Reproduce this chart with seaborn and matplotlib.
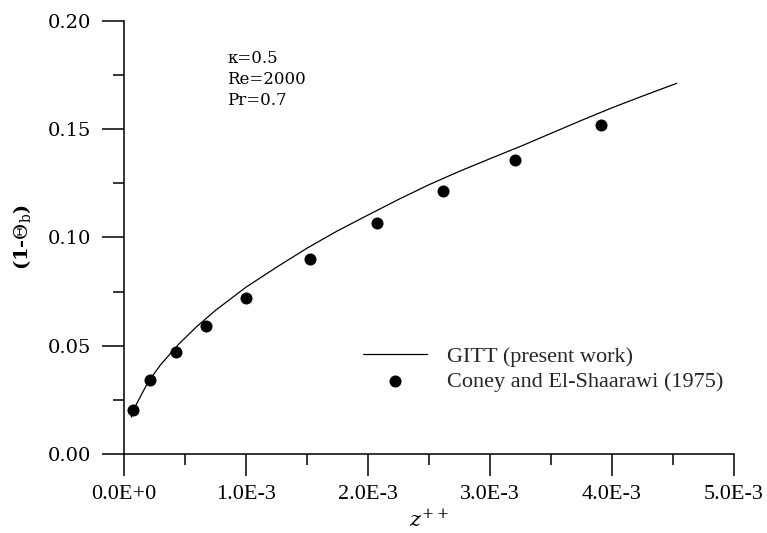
import matplotlib
matplotlib.use("Agg")
import matplotlib.pyplot as plt
import seaborn as sns
import pandas as pd
from matplotlib.ticker import FixedLocator, FixedFormatter, MultipleLocator

# ---- data ----
gitt_z = [0.06e-3, 0.10e-3, 0.20e-3, 0.30e-3, 0.45e-3, 0.60e-3, 0.75e-3, 1.00e-3,
          1.25e-3, 1.50e-3, 1.75e-3, 2.00e-3, 2.25e-3, 2.50e-3, 2.75e-3, 3.00e-3,
          3.25e-3, 3.50e-3, 3.75e-3, 4.00e-3, 4.25e-3, 4.53e-3]
gitt_theta = [0.017, 0.0228, 0.0335, 0.0412, 0.0508, 0.0590, 0.0663, 0.0770,
              0.0862, 0.0950, 0.1030, 0.1103, 0.1175, 0.1243, 0.1305, 0.1363,
              0.1420, 0.1480, 0.1540, 0.1598, 0.1652, 0.1711]

coney_z = [0.071e-3, 0.213e-3, 0.426e-3, 0.672e-3, 1.00e-3, 1.522e-3,
           2.071e-3, 2.616e-3, 3.205e-3, 3.91e-3]
coney_theta = [0.0202, 0.0342, 0.0471, 0.0590, 0.0718, 0.0899,
               0.1065, 0.1216, 0.1357, 0.152]

xtick_values = [0.0, 1e-3, 2e-3, 3e-3, 4e-3, 5e-3]
xtick_labels = ["0.0E+0", "1.0E-3", "2.0E-3", "3.0E-3", "4.0E-3", "5.0E-3"]
ytick_values = [0.00, 0.05, 0.10, 0.15, 0.20]
ytick_labels = ["0.00", "0.05", "0.10", "0.15", "0.20"]

series_labels = ["GITT (present work)", "Coney and El-Shaarawi (1975)"]
annotation = "\u03ba=0.5\nRe=2000\nPr=0.7"

df_line = pd.DataFrame({"z": gitt_z, "t": gitt_theta})
df_pts = pd.DataFrame({"z": coney_z, "t": coney_theta})

sns.set_theme(style="ticks")
plt.rcParams["font.family"] = ["DejaVu Serif"]
plt.rcParams["mathtext.fontset"] = "dejavuserif"

fig = plt.figure(figsize=(7.67, 5.33), dpi=100)
ax = fig.add_axes([124 / 767, 1 - 454 / 533, (734 - 124) / 767, (454 - 20.7) / 533])

sns.lineplot(data=df_line, x="z", y="t", ax=ax, color="black", linewidth=0.9,
             label=series_labels[0], sort=False)
sns.scatterplot(data=df_pts, x="z", y="t", ax=ax, color="black", s=75,
                edgecolor="black", linewidth=0, label=series_labels[1], zorder=3)

ax.set_xlim(0, 5e-3)
ax.set_ylim(0, 0.20)
ax.xaxis.set_major_locator(FixedLocator(xtick_values))
ax.xaxis.set_major_formatter(FixedFormatter(xtick_labels))
ax.yaxis.set_major_locator(FixedLocator(ytick_values))
ax.yaxis.set_major_formatter(FixedFormatter(ytick_labels))
ax.xaxis.set_minor_locator(MultipleLocator(0.5e-3))
ax.yaxis.set_minor_locator(MultipleLocator(0.025))

for s in ["top", "right"]:
    ax.spines[s].set_visible(False)
for s in ["left", "bottom"]:
    ax.spines[s].set_color("black")
    ax.spines[s].set_linewidth(1.1)

ax.tick_params(axis="both", which="major", direction="out", length=16, width=1.1, color="black")
ax.tick_params(axis="both", which="minor", direction="out", length=8, width=1.1, color="black")
ax.tick_params(axis="y", which="major", pad=8, labelsize=14, labelcolor="black")
ax.tick_params(axis="x", which="major", pad=6, labelsize=16, labelcolor="black")
for lab in ax.get_xticklabels():
    lab.set_fontfamily("Liberation Serif")

ax.set_xlabel("$z^{++}$", fontsize=15, color="black", labelpad=4)
ax.set_ylabel(r"(1-$\Theta_\mathrm{b}$)", fontsize=14, fontweight="bold", color="black", labelpad=10)

ax.grid(False)

leg = ax.legend(loc="upper left", bbox_to_anchor=(363 / 767, 1 - 346 / 533),
                bbox_transform=fig.transFigure, frameon=False,
                prop={"family": "Liberation Serif", "size": 16},
                handlelength=2.9, handletextpad=0.9, borderpad=0, borderaxespad=0,
                labelspacing=0.2)

fig.text(227 / 767, 1 - 50 / 533, annotation, fontsize=12, va="top", ha="left",
         color="black", linespacing=1.3)

fig.savefig("out.png", dpi=100)
